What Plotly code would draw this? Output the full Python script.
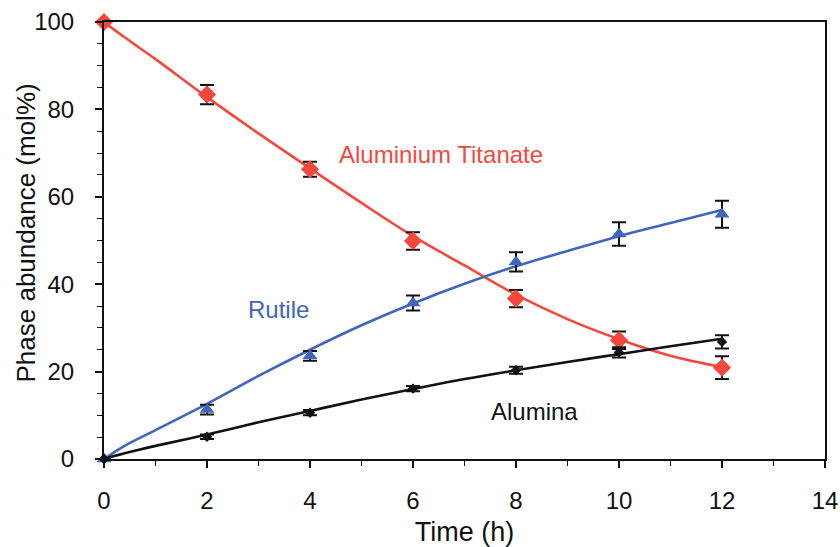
import plotly.graph_objects as go

# Measured phase abundances (mol%) vs annealing time (h)
time_h = [0, 2, 4, 6, 8, 10, 12]
titanate = [100, 83.4, 66.3, 49.9, 36.7, 27.2, 20.9]
titanate_err = [0, 2.2, 1.7, 2.0, 2.0, 2.0, 2.6]
rutile = [0, 11.3, 23.6, 35.7, 45.1, 51.5, 56.0]
rutile_err = [0, 1.1, 1.1, 1.7, 2.2, 2.7, 3.1]
alumina = [0, 5.1, 10.6, 16.1, 20.3, 24.4, 26.8]
alumina_err = [0, 0.5, 0.6, 0.6, 0.8, 1.2, 1.5]

# Smooth model curves through the data
fit_t = [0, 0.4, 1, 2, 3, 4, 5, 6, 7, 8, 9, 10, 11, 12]
fit_titanate = [100, 96.5, 91.5, 82.8, 74.5, 66.5, 58.6, 51.0, 44.3, 37.6, 32.0, 27.4, 23.6, 21.0]
fit_rutile = [0, 3.0, 6.6, 12.6, 19.0, 25.0, 30.6, 35.6, 40.1, 44.1, 47.6, 51.0, 54.0, 57.0]
fit_alumina = [0, 1.3, 3.0, 5.6, 8.4, 11.0, 13.6, 16.0, 18.3, 20.3, 22.2, 24.0, 25.8, 27.5]

RED = "#f4483c"
BLUE = "#4164bd"
BLACK = "#111111"
FONT = "Liberation Sans, Arial, sans-serif"

fig = go.Figure()

for fx, fy, col in [(fit_t, fit_titanate, RED), (fit_t, fit_rutile, BLUE), (fit_t, fit_alumina, BLACK)]:
    fig.add_trace(go.Scatter(x=fx, y=fy, mode="lines", line=dict(color=col, width=2.6, shape="spline"),
                             showlegend=False, hoverinfo="skip"))

err_style = dict(type="data", color=BLACK, thickness=2, width=7)

fig.add_trace(go.Scatter(x=time_h, y=titanate, mode="markers", name="Aluminium Titanate",
                         marker=dict(symbol="diamond", size=14, color=RED),
                         error_y=dict(array=titanate_err, **err_style), cliponaxis=False))
fig.add_trace(go.Scatter(x=time_h, y=rutile, mode="markers", name="Rutile",
                         marker=dict(symbol="triangle-up", size=13, color=BLUE),
                         error_y=dict(array=rutile_err, **err_style), cliponaxis=False))
fig.add_trace(go.Scatter(x=time_h, y=alumina, mode="markers", name="Alumina",
                         marker=dict(symbol="diamond", size=8, color=BLACK),
                         error_y=dict(array=alumina_err, **err_style), cliponaxis=False))

annotations = [
    dict(x=6.55, y=69.6, text="Aluminium Titanate", font=dict(color=RED, size=24)),
    dict(x=3.39, y=34.3, text="Rutile", font=dict(color=BLUE, size=24)),
    dict(x=8.35, y=10.8, text="Alumina", font=dict(color=BLACK, size=24)),
]
for a in annotations:
    a.update(xref="x", yref="y", showarrow=False)

# vertical axis title placed beside the tick labels
annotations.append(dict(
    xref="paper", yref="paper", x=0, y=0.5, xanchor="center", yanchor="middle",
    xshift=-79, yshift=7, textangle=-90, showarrow=False,
    text="Phase abundance (mol%)", font=dict(size=26, family=FONT, color=BLACK),
))

fig.update_layout(
    width=840, height=547,
    margin=dict(l=104, r=15, t=22, b=88),
    paper_bgcolor="white", plot_bgcolor="white",
    font=dict(family=FONT, color=BLACK),
    showlegend=False,
    annotations=annotations,
    xaxis=dict(
        range=[0, 14], dtick=2, tick0=0, automargin=False,
        showgrid=False, zeroline=False,
        showline=True, linecolor=BLACK, linewidth=2, mirror=True,
        ticks="outside", ticklen=7, tickwidth=1.5, tickcolor=BLACK,
        minor=dict(dtick=1, ticks="outside", ticklen=5, tickwidth=1, tickcolor=BLACK),
        tickfont=dict(size=24, family=FONT), ticklabelstandoff=12,
        title=dict(text="Time (h)", font=dict(size=27, family=FONT), standoff=10),
    ),
    yaxis=dict(
        range=[0, 100], dtick=20, tick0=0, automargin=False,
        showgrid=False, zeroline=False,
        showline=True, linecolor=BLACK, linewidth=2, mirror=True,
        ticks="outside", ticklen=7, tickwidth=1.5, tickcolor=BLACK,
        minor=dict(dtick=5, ticks="outside", ticklen=5, tickwidth=1, tickcolor=BLACK),
        tickfont=dict(size=24, family=FONT), ticklabelstandoff=16,
    ),
)

fig.write_html("out.html")
